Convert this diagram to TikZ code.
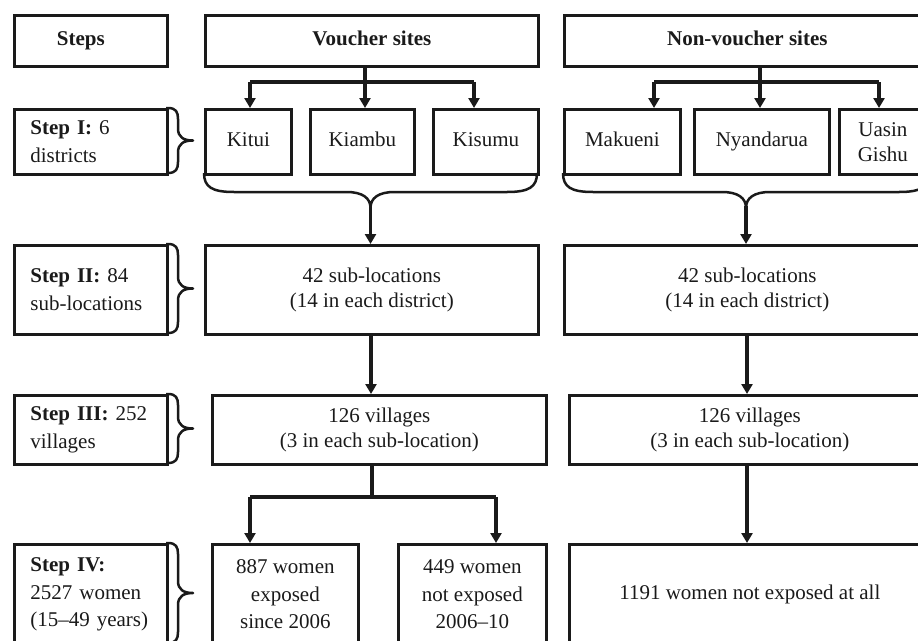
\documentclass[tikz,border=0pt]{standalone}
\usepackage{fontspec}
\setmainfont{Liberation Serif}
\usetikzlibrary{arrows.meta}
\definecolor{ink}{HTML}{1A1A1A}
\newcommand\stepbrace[3]{% x, y1, y2
  \draw[brc] (#1,#2) -- (#1+2,#2) .. controls (#1+10,#2) and (#1+12,#2+4) .. (#1+12,#2+11)
    -- (#1+12,{(#2+#3)/2-12}) .. controls (#1+12,{(#2+#3)/2-3}) and (#1+18,{(#2+#3)/2}) .. (#1+27,{(#2+#3)/2})
    .. controls (#1+18,{(#2+#3)/2}) and (#1+12,{(#2+#3)/2+3}) .. (#1+12,{(#2+#3)/2+12})
    -- (#1+12,#3-11) .. controls (#1+12,#3-4) and (#1+10,#3) .. (#1+2,#3) -- (#1,#3);}
\newcommand\lowbrace[4]{% x1, x2, y, tip-y
  \draw[brc] (#1,#3) .. controls (#1,#3+14) and (#1+8,#3+19) .. (#1+30,#3+19)
    -- ({(#1+#2)/2-24},#3+19) .. controls ({(#1+#2)/2-8},#3+19) and ({(#1+#2)/2},#3+25) .. ({(#1+#2)/2},#4)
    .. controls ({(#1+#2)/2},#3+25) and ({(#1+#2)/2+8},#3+19) .. ({(#1+#2)/2+24},#3+19)
    -- (#2-30,#3+19) .. controls (#2-8,#3+19) and (#2,#3+14) .. (#2,#3);}
\begin{document}
\begin{tikzpicture}[x=1pt,y=-1pt,
  box/.style={draw=ink,line width=2.7pt,inner sep=0pt,anchor=north west,align=center,text=ink,font=\fontsize{21}{25}\selectfont},
  one/.style={text height=14.5pt,text depth=4.5pt},
  stepbox/.style={box,align=left,text width=121pt,inner xsep=16pt,font=\fontsize{21}{27.5}\selectfont},
  conn/.style={draw=ink,line width=3.2pt},
  arr/.style={conn,-{Triangle[width=11pt,length=10pt]}},
  brc/.style={draw=ink,line width=2.5pt,line join=round},
]
\useasboundingbox (0,0) rectangle (918,640);

% header row
\node[box,one,minimum width=153pt,minimum height=51pt] (steps) at (13,14) {\textbf{Steps}\hspace*{20pt}};
\node[box,one,minimum width=333pt,minimum height=51pt] (vh) at (204,14) {\textbf{Voucher sites}};
\node[box,one,minimum width=366pt,minimum height=51pt] (nvh) at (563,14) {\textbf{Non-voucher sites}};

% step I row
\node[stepbox,minimum height=65pt] (s1) at (13,108) {\textbf{Step I:} 6\\districts};
\node[box,one,minimum width=86pt,minimum height=65pt] (kitui) at (204,108) {Kitui};
\node[box,one,minimum width=104pt,minimum height=65pt] (kiambu) at (309,108) {Kiambu};
\node[box,one,minimum width=105pt,minimum height=65pt] (kisumu) at (432,108) {Kisumu};
\node[box,one,minimum width=116pt,minimum height=65pt] (makueni) at (563,108) {Makueni};
\node[box,one,minimum width=135pt,minimum height=65pt] (nyand) at (693,108) {Nyandarua};
\node[box,minimum width=87pt,minimum height=65pt] (uasin) at (838,108) {Uasin\\Gishu};

% step II row
\node[stepbox,minimum height=89pt] (s2) at (13,244) {\textbf{Step II:} 84\\sub-locations};
\node[box,minimum width=333pt,minimum height=89pt] (v2) at (204,244) {42 sub-locations\\(14 in each district)};
\node[box,minimum width=366pt,minimum height=89pt] (n2) at (563,244) {42 sub-locations\\(14 in each district)};

% step III row
\node[stepbox,minimum height=69pt] (s3) at (13,394) {\textbf{Step III:} 252\\villages};
\node[box,minimum width=334pt,minimum height=69pt] (v3) at (211,394) {126 villages\\(3 in each sub-location)};
\node[box,minimum width=361pt,minimum height=69pt] (n3) at (568,394) {126 villages\\(3 in each sub-location)};

% step IV row
\node[stepbox,minimum height=100pt] (s4) at (13,543) {\textbf{Step IV:}\\2527 women\\(15--49 years)};
\node[box,minimum width=146pt,minimum height=100pt,font=\fontsize{21}{27.5}\selectfont] (w887) at (211,543) {887 women\\exposed\\since 2006};
\node[box,minimum width=148pt,minimum height=100pt,font=\fontsize{21}{27.5}\selectfont] (w449) at (397,543) {449 women\\not exposed\\2006--10};
\node[box,one,minimum width=361pt,minimum height=100pt] (w1191) at (568,543) {1191 women not exposed at all};

% braces on step boxes
\stepbrace{166}{108}{173}
\stepbrace{166}{244}{333}
\stepbrace{166}{394}{463}
\stepbrace{166}{543}{643}

% braces under districts
\lowbrace{204}{537}{173}{208}
\lowbrace{563}{929}{173}{208}
\coordinate (vtip) at (370.5,206);
\coordinate (ntip) at (746,206);

% branches from headers
\coordinate (vb) at (365,82);
\coordinate (vl) at (250,82);
\coordinate (vr) at (474,82);
\draw[conn] (vh.south -| vb) -- (vb);
\draw[conn] (vl) -- (vr);
\draw[arr] (vl) -- (vl |- kitui.north);
\draw[arr] (vb) -- (vb |- kiambu.north);
\draw[arr] (vr) -- (vr |- kisumu.north);

\coordinate (nb) at (760,82);
\coordinate (nl) at (654,82);
\coordinate (nr) at (879,82);
\draw[conn] (nvh.south -| nb) -- (nb);
\draw[conn] (nl) -- (nr);
\draw[arr] (nl) -- (nl |- makueni.north);
\draw[arr] (nb) -- (nb |- nyand.north);
\draw[arr] (nr) -- (nr |- uasin.north);

% brace tips to step II
\draw[arr] (vtip) -- (vtip |- v2.north);
\draw[arr] (ntip) -- (ntip |- n2.north);

% step II to step III
\coordinate (v23) at (371,333);
\draw[arr] (v23) -- (v23 |- v3.north);
\coordinate (n23) at (747,333);
\draw[arr] (n23) -- (n23 |- n3.north);

% step III to step IV
\coordinate (vb4) at (372,497);
\coordinate (vl4) at (250,497);
\coordinate (vr4) at (496,497);
\draw[conn] (v3.south -| vb4) -- (vb4);
\draw[conn] (vl4) -- (vr4);
\draw[arr] (vl4) -- (vl4 |- w887.north);
\draw[arr] (vr4) -- (vr4 |- w449.north);
\draw[arr] (n3.south -| n23) -- (w1191.north -| n23);
\end{tikzpicture}
\end{document}
